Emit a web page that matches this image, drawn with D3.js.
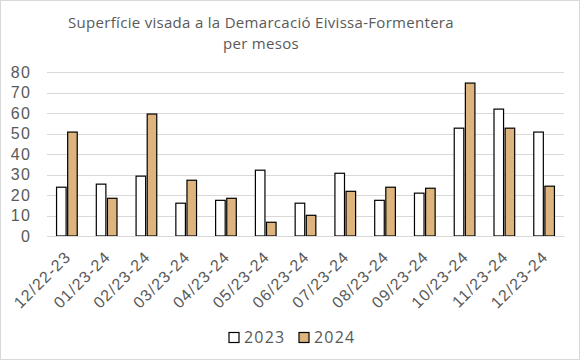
<!DOCTYPE html>
<html>
<head>
<meta charset="utf-8">
<script src="https://cdn.jsdelivr.net/npm/d3@7"></script>
<style>
  body { margin: 0; background: #fff; }
  svg { display: block; font-family: "Open Sans", "DejaVu Sans", sans-serif; }
</style>
</head>
<body>
<svg id="chart"></svg>
<script>
// dades
const months = ["12/22-23", "01/23-24", "02/23-24", "03/23-24", "04/23-24", "05/23-24", "06/23-24",
                "07/23-24", "08/23-24", "09/23-24", "10/23-24", "11/23-24", "12/23-24"];
const series = ["2023", "2024"];
const values2023 = [23.8, 25.3, 29.2, 16.0, 17.4, 32.1, 16.0, 30.6, 17.4, 20.9, 52.6, 61.9, 50.7];
const values2024 = [50.7, 18.4, 59.5, 27.2, 18.4, 6.7, 10.1, 21.8, 23.8, 23.3, 74.6, 52.6, 24.3];
const yTicks = [0, 10, 20, 30, 40, 50, 60, 70, 80];
const titleLines = ["Superfície visada a la Demarcació Eivissa-Formentera", "per mesos"];

const width = 580, height = 360;
const margin = { top: 72, right: 16, bottom: 124, left: 47 };
const colors = { "2023": "#ffffff", "2024": "#deb47e" };
const textColor = "#595959";

const svg = d3.select("#chart").attr("width", width).attr("height", height);

// marc exterior
svg.append("rect")
    .attr("x", 0.5).attr("y", 0.5)
    .attr("width", width - 1).attr("height", height - 1)
    .attr("fill", "#fff").attr("stroke", "#d9d9d9");

// títol
svg.append("g").selectAll("text")
    .data(titleLines)
    .enter().append("text")
    .attr("x", 261)
    .attr("y", (d, i) => 28 + i * 20.5)
    .attr("text-anchor", "middle")
    .attr("fill", textColor)
    .style("font-size", "15px")
    .style("letter-spacing", "0.3px")
    .text(d => d);

const x0 = d3.scaleBand()
    .domain(months)
    .range([margin.left, width - margin.right])
    .paddingInner(0.48)
    .paddingOuter(0.24);

const x1 = d3.scaleBand()
    .domain(series)
    .range([0, x0.bandwidth()])
    .paddingInner(0.14);

const y = d3.scaleLinear()
    .domain([0, 80])
    .range([height - margin.bottom, margin.top]);

// línies de graella
svg.append("g").selectAll("line")
    .data(yTicks)
    .enter().append("line")
    .attr("x1", margin.left).attr("x2", width - margin.right)
    .attr("y1", d => Math.round(y(d)) + 0.5).attr("y2", d => Math.round(y(d)) + 0.5)
    .attr("stroke", "#d9d9d9")
    .attr("stroke-width", 1);

// eix y
const yAxis = svg.append("g")
    .attr("transform", `translate(${margin.left},0)`)
    .call(d3.axisLeft(y).tickValues(yTicks).tickSize(0).tickPadding(16));
yAxis.select(".domain").remove();
yAxis.selectAll("text")
    .attr("fill", textColor)
    .style("font-size", "16px")
    .style("letter-spacing", "1.2px");

// barres
const rows = months.map((m, i) => ({ month: m, "2023": values2023[i], "2024": values2024[i] }));

svg.append("g").selectAll("g")
    .data(rows)
    .enter().append("g")
    .attr("transform", d => `translate(${x0(d.month)},0)`)
    .selectAll("rect")
    .data(d => series.map(s => ({ key: s, value: d[s] })))
    .enter().append("rect")
    .attr("x", d => x1(d.key))
    .attr("y", d => y(d.value))
    .attr("width", x1.bandwidth())
    .attr("height", d => y(0) - y(d.value))
    .attr("fill", d => colors[d.key])
    .attr("stroke", "#000")
    .attr("stroke-width", 1.2);

// eix x
const xAxis = svg.append("g")
    .attr("transform", `translate(0,${y(0)})`)
    .call(d3.axisBottom(x0).tickSize(0).tickPadding(0));
xAxis.select(".domain").attr("stroke", "#d9d9d9");
xAxis.selectAll("text")
    .attr("fill", textColor)
    .style("font-size", "16px")
    .style("letter-spacing", "1.2px")
    .attr("text-anchor", "end")
    .attr("dx", "-12")
    .attr("dy", "19")
    .attr("transform", "rotate(-45)");

// llegenda
const legend = svg.append("g")
    .attr("transform", "translate(229,332.5)");
const legendItem = legend.selectAll("g")
    .data(series)
    .enter().append("g")
    .attr("transform", (d, i) => `translate(${i * 70},0)`);
legendItem.append("rect")
    .attr("width", 10).attr("height", 10)
    .attr("fill", d => colors[d])
    .attr("stroke", "#000")
    .attr("stroke-width", 1.2);
legendItem.append("text")
    .attr("x", 15)
    .attr("y", 10)
    .attr("fill", textColor)
    .style("font-size", "16px")
    .style("letter-spacing", "1.2px")
    .text(d => d);
</script>
</body>
</html>
